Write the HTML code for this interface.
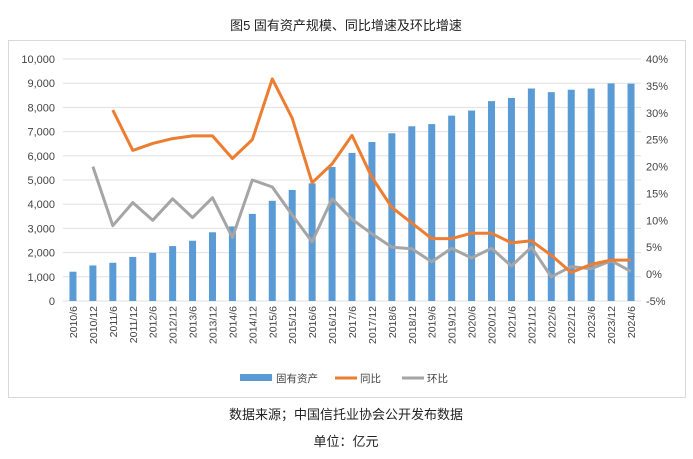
<!DOCTYPE html>
<html><head><meta charset="utf-8"><style>
body{margin:0;background:#fff;font-family:"Liberation Sans","Noto Sans CJK SC",sans-serif;}
</style></head><body>
<svg width="693" height="459" id="c" style="display:block">
<text x="346" y="30" text-anchor="middle" font-size="13" fill="#222">图5 固有资产规模、同比增速及环比增速</text>
<rect x="8.5" y="40.5" width="677" height="357" fill="none" stroke="#d9d9d9"/>
<g id="g"></g>
<text x="346" y="419" text-anchor="middle" font-size="13" fill="#222">数据来源；中国信托业协会公开发布数据</text>
<text x="346" y="446" text-anchor="middle" font-size="13" fill="#222">单位：亿元</text>
</svg>
<script>
const categories=["2010/6","2010/12","2011/6","2011/12","2012/6","2012/12","2013/6","2013/12","2014/6","2014/12","2015/6","2015/12","2016/6","2016/12","2017/6","2017/12","2018/6","2018/12","2019/6","2019/12","2020/6","2020/12","2021/6","2021/12","2022/6","2022/12","2023/6","2023/12","2024/6"];
const assets=[1210,1470,1580,1820,1990,2270,2490,2840,3080,3600,4140,4590,4860,5540,6120,6570,6930,7220,7310,7660,7870,8260,8390,8780,8630,8730,8780,8990,8980];
const yoy=[null,null,30.5,23,24.3,25.2,25.7,25.7,21.5,25,36.3,29,17,20.5,25.8,18,12.4,9.5,6.6,6.6,7.6,7.6,5.8,6.2,3.5,0.3,1.8,2.6,2.6];
const qoq=[null,20,9,13.3,10,14,10.5,14.2,6.8,17.5,16.2,11,6,14,10.2,7.5,5,4.7,2.3,4.8,3,4.8,1.5,5,-0.5,1.4,1,2.5,0.5];
const leftTicks=[0,1000,2000,3000,4000,5000,6000,7000,8000,9000,10000];
const rightTicks=[-5,0,5,10,15,20,25,30,35,40];
const NS="http://www.w3.org/2000/svg",g=document.getElementById('g');
function el(t,a,txt){const e=document.createElementNS(NS,t);for(const k in a)e.setAttribute(k,a[k]);if(txt!==undefined)e.textContent=txt;g.appendChild(e);return e;}
const X0=63,X1=641,YT=59,YB=301;
const step=(X1-X0)/categories.length;
const xs=i=>X0+step*(i+0.5);
const yL=v=>YB-(v/10000)*(YB-YT);
const yR=v=>YB-((v+5)/45)*(YB-YT);
leftTicks.forEach(t=>{
 const l=el('line',{x1:X0,x2:X1,y1:yL(t),y2:yL(t),stroke:'#e0e0e0'});
 
 const tx=el('text',{x:55,y:yL(t)+4,'text-anchor':'end','font-size':11,fill:'#444'},t.toLocaleString('en-US'));
 
});
rightTicks.forEach(t=>{
 const tx=el('text',{x:646,y:yR(t)+4,'font-size':11,fill:'#444'},t+'%');
 
});
assets.forEach((v,i)=>{
 const r=el('rect',{x:xs(i)-3.5,y:yL(v),width:7,height:YB-yL(v),fill:'#5b9bd5'});
 
});
function line(arr,col,name){let d='';arr.forEach((v,i)=>{if(v===null)return;d+=(d?'L':'M')+xs(i).toFixed(1)+','+yR(v).toFixed(1);});
 const p=el('path',{d:d,fill:'none',stroke:col,'stroke-width':3,'stroke-linejoin':'round'});
 }
line(qoq,'#a5a5a5','line-qoq');
line(yoy,'#ed7d31','line-yoy');
categories.forEach((c,i)=>{
 const t=el('text',{transform:`translate(${xs(i)+4},306) rotate(-90)`,'text-anchor':'end','font-size':10.5,fill:'#444'},c);
 
});
const leg=[['固有资产','#5b9bd5','rect',240],['同比','#ed7d31','line',335],['环比','#a5a5a5','line',402]];
leg.forEach(([n,c,k,x])=>{
 let m;
 if(k==='rect')m=el('rect',{x:x,y:374,width:32,height:7,fill:c});
 else m=el('line',{x1:x,x2:x+22,y1:378,y2:378,stroke:c,'stroke-width':3});
 
 const t=el('text',{x:x+(k==='rect'?36:25),y:382,'font-size':10.5,fill:'#444'},n);
 
});
</script>
</body></html>
